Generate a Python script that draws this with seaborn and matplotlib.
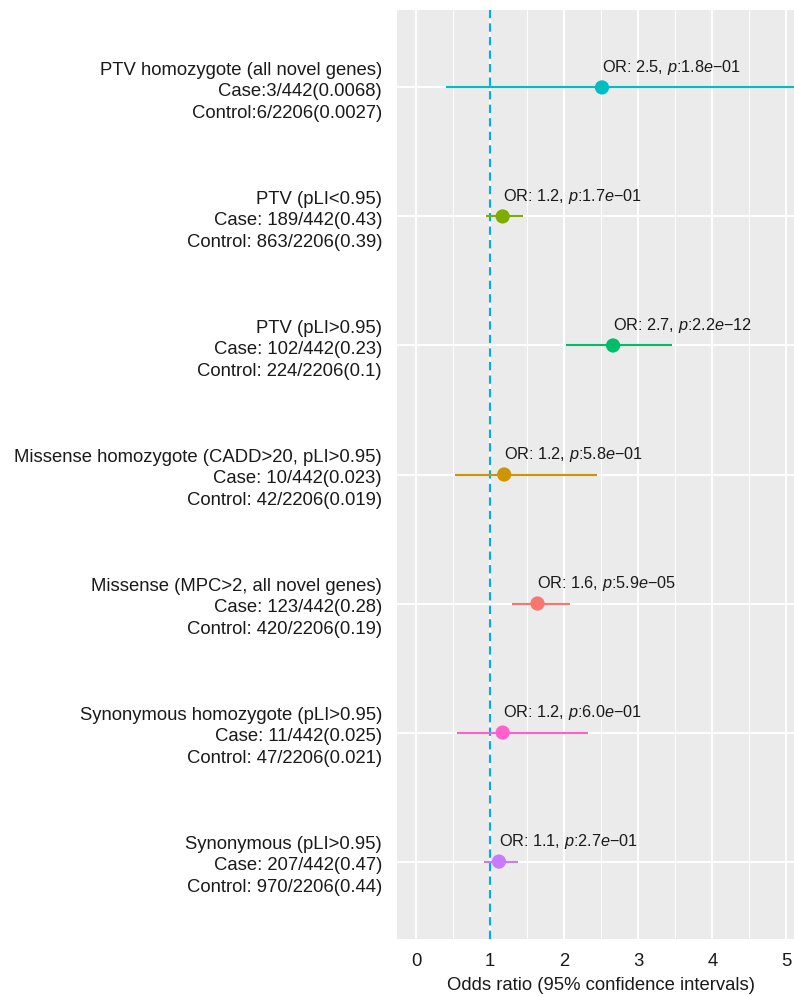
import matplotlib
matplotlib.use("Agg")
import matplotlib.pyplot as plt
import seaborn as sns
import pandas as pd
import numpy as np

# ---- data ----
variant_class = [
    "PTV homozygote (all novel genes)",
    "PTV (pLI<0.95)",
    "PTV (pLI>0.95)",
    "Missense homozygote (CADD>20, pLI>0.95)",
    "Missense (MPC>2, all novel genes)",
    "Synonymous homozygote (pLI>0.95)",
    "Synonymous (pLI>0.95)",
]
case_text = [
    "Case:3/442(0.0068)",
    "Case: 189/442(0.43)",
    "Case: 102/442(0.23)",
    "Case: 10/442(0.023)",
    "Case: 123/442(0.28)",
    "Case: 11/442(0.025)",
    "Case: 207/442(0.47)",
]
control_text = [
    "Control:6/2206(0.0027)",
    "Control: 863/2206(0.39)",
    "Control: 224/2206(0.1)",
    "Control: 42/2206(0.019)",
    "Control: 420/2206(0.19)",
    "Control: 47/2206(0.021)",
    "Control: 970/2206(0.44)",
]
odds_ratio = [2.51, 1.17, 2.66, 1.19, 1.64, 1.17, 1.12]
ci_low = [0.405, 0.945, 2.02, 0.53, 1.29, 0.55, 0.92]
ci_high = [12.5, 1.44, 3.46, 2.44, 2.08, 2.32, 1.38]
p_value = [1.8e-01, 1.7e-01, 2.2e-12, 5.8e-01, 5.9e-05, 6.0e-01, 2.7e-01]
colors = ["#00BFC4", "#7CAE00", "#00BE67", "#CD9600", "#F8766D", "#FF61CC", "#C77CFF"]
x_ticks = [0, 1, 2, 3, 4, 5]

df = pd.DataFrame({
    "label": [f"{a}\n{b}\n{c}" for a, b, c in zip(variant_class, case_text, control_text)],
    "pos": np.arange(len(variant_class)),
    "OR": odds_ratio,
    "lo": ci_low,
    "hi": ci_high,
    "p": p_value,
})

sns.set_theme(style="darkgrid")
plt.rcParams["font.family"] = ["Liberation Sans", "DejaVu Sans"]
plt.rcParams["mathtext.fontset"] = "custom"
plt.rcParams["mathtext.rm"] = "Liberation Sans"
plt.rcParams["mathtext.it"] = "Liberation Sans:italic"

fig = plt.figure(figsize=(7.94, 9.96), dpi=100)
ax = fig.add_axes([396.7 / 794, 57 / 996, (805 - 396.7) / 794, 929 / 996])
ax.set_facecolor("#EBEBEB")

# confidence intervals
ax.hlines(df["pos"], df["lo"], df["hi"], colors=colors, linewidth=1.5, zorder=3)
# point estimates
sns.scatterplot(data=df, x="OR", y="pos", hue="label", palette=colors,
                s=105, edgecolor="none", legend=False, ax=ax, zorder=4)

# reference line at OR = 1
ax.axvline(1, color="#00A9FF", linestyle=(0, (4, 2.5)), linewidth=1.5, zorder=2)

# annotations
for _, r in df.iterrows():
    mant, expo = f"{r['p']:.1e}".split("e")
    expo = expo.replace("-", "\u2212")
    txt = f"OR: {r['OR']:.1f}, $\\it{{p}}$:{mant}$\\it{{e}}${expo}"
    ax.annotate(txt, xy=(r["OR"], r["pos"]), xytext=(0, 11), textcoords="offset points",
                ha="left", va="baseline", fontsize=11.7, color="#1A1A1A", zorder=5)

ax.set_xlim(-0.26, 5.25)
ax.set_ylim(6.6, -0.6)
ax.set_xticks(x_ticks)
ax.set_xticks(np.arange(0.5, 5.0, 1.0), minor=True)
ax.set_yticks(df["pos"])
ax.set_yticklabels(df["label"], ha="right", linespacing=1.36)

ax.grid(which="major", color="white", linewidth=1.4)
ax.grid(which="minor", axis="x", color="white", linewidth=0.7)
ax.grid(which="minor", axis="y", visible=False)
for s in ax.spines.values():
    s.set_visible(False)

ax.tick_params(axis="both", which="major", length=3.5, width=1.0, color="#333333",
               labelsize=13.3, labelcolor="#1A1A1A")
ax.tick_params(axis="x", pad=6.5)
ax.tick_params(axis="y", pad=7)
ax.tick_params(which="minor", length=0)

ax.set_xlabel("Odds ratio (95% confidence intervals)", fontsize=13.3, color="#1A1A1A", labelpad=5)
ax.set_ylabel("")

fig.savefig("out.png", dpi=100, facecolor="white")
